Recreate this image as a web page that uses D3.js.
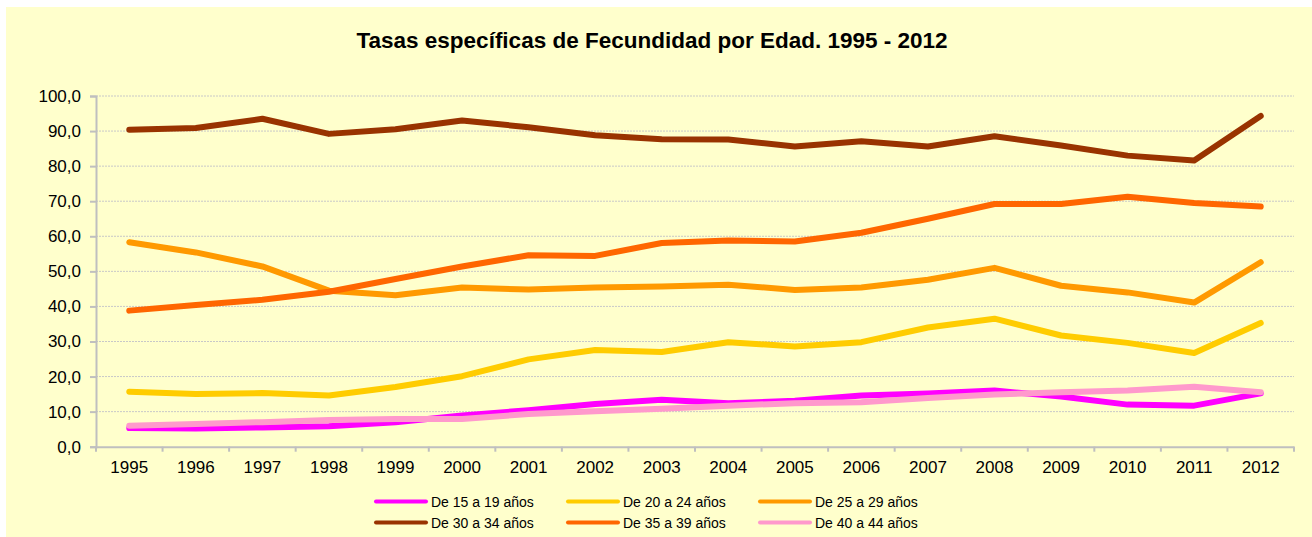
<!DOCTYPE html>
<html>
<head>
<meta charset="utf-8">
<script src="https://cdn.jsdelivr.net/npm/d3@7"></script>
<style>
  body { margin: 0; background: #ffffff; }
  text { font-family: "Liberation Sans", Arial, sans-serif; fill: #000000; }
</style>
</head>
<body>
<div id="chart"></div>
<script>
const years = ['1995','1996','1997','1998','1999','2000','2001','2002','2003','2004','2005','2006','2007','2008','2009','2010','2011','2012']
const yTicks = [0, 10, 20, 30, 40, 50, 60, 70, 80, 90, 100]

const age15_19 = [5.3, 5.2, 5.5, 5.8, 7.0, 8.9, 10.4, 12.2, 13.4, 12.4, 13.1, 14.6, 15.2, 16.0, 14.3, 12.0, 11.7, 15.2]
const age20_24 = [15.7, 15.0, 15.3, 14.6, 17.0, 20.1, 24.9, 27.6, 27.0, 29.8, 28.6, 29.8, 34.0, 36.5, 31.7, 29.6, 26.7, 35.3]
const age25_29 = [58.3, 55.4, 51.4, 44.5, 43.2, 45.4, 44.8, 45.4, 45.7, 46.2, 44.7, 45.4, 47.6, 51.0, 45.9, 44.0, 41.1, 52.6]
const age30_34 = [90.4, 90.9, 93.5, 89.2, 90.5, 93.0, 91.1, 88.8, 87.7, 87.6, 85.6, 87.1, 85.6, 88.5, 85.9, 83.0, 81.6, 94.3]
const age35_39 = [38.8, 40.4, 41.9, 44.2, 47.8, 51.4, 54.6, 54.4, 58.1, 58.8, 58.5, 61.0, 65.0, 69.2, 69.2, 71.3, 69.5, 68.5]
const age40_44 = [6.0, 6.5, 7.0, 7.6, 7.9, 7.9, 9.3, 10.1, 10.8, 11.7, 12.4, 12.7, 13.9, 14.9, 15.5, 16.0, 17.1, 15.5]

const seriesNames = ['De 15 a 19 años', 'De 20 a 24 años', 'De 25 a 29 años', 'De 30 a 34 años', 'De 35 a 39 años', 'De 40 a 44 años']
const seriesColors = ['#FF00FF', '#FFCC00', '#FF9900', '#993300', '#FF6600', '#FF99CC']

const data = [age15_19, age20_24, age25_29, age30_34, age35_39, age40_44].map((vals, i) => {
    return { name: seriesNames[i], color: seriesColors[i], values: vals.map((v, j) => ({ year: years[j], value: v })) }
})

drawLineChart(data)

function drawLineChart(data) {
    const width = 1312, height = 537
    const plot = { left: 96, right: 1294, top: 96, bottom: 446.7 }

    const svg = d3.select('#chart')
        .append('svg')
        .attr('width', width)
        .attr('height', height)

    // chart background
    svg.append('rect')
        .attr('x', 6).attr('y', 7)
        .attr('width', width - 6).attr('height', height - 7)
        .attr('fill', '#FFFFCC')

    // title
    svg.append('text')
        .attr('x', 652).attr('y', 48)
        .attr('text-anchor', 'middle')
        .attr('font-size', 22.5)
        .attr('font-weight', 'bold')
        .text('Tasas específicas de Fecundidad por Edad. 1995 - 2012')

    // scales
    const xScale = d3.scaleBand()
        .domain(years)
        .range([plot.left, plot.right])

    const yScale = d3.scaleLinear()
        .domain([0, 100])
        .range([plot.bottom, plot.top])

    // grid lines
    svg.append('g')
        .selectAll('line')
        .data(yTicks.filter(d => d > 0))
        .enter()
        .append('line')
        .attr('x1', plot.left).attr('x2', plot.right)
        .attr('y1', d => yScale(d)).attr('y2', d => yScale(d))
        .attr('stroke', '#C8C8C8')
        .attr('stroke-width', 1)
        .attr('stroke-dasharray', '2,1')

    // y axis
    const yAxis = d3.axisLeft(yScale)
        .tickValues(yTicks)
        .tickSize(6)
        .tickPadding(9)
        .tickFormat(d => d3.format('.1f')(d).replace('.', ','))

    const yAxisGroup = svg.append('g')
        .attr('transform', `translate(${plot.left},0)`)
        .call(yAxis)
    yAxisGroup.select('.domain').attr('stroke', '#BFBFBF').attr('stroke-width', 2)
    yAxisGroup.selectAll('.tick line').attr('stroke', '#BFBFBF').attr('stroke-width', 2)
    yAxisGroup.selectAll('text').attr('font-size', 17).attr('font-family', '"Liberation Sans", Arial, sans-serif').attr('fill', '#000')

    // x axis: labels at centers, ticks between categories
    const xAxis = d3.axisBottom(xScale).tickSize(0).tickPadding(14)
    const xAxisGroup = svg.append('g')
        .attr('transform', `translate(0,${plot.bottom})`)
        .call(xAxis)
    xAxisGroup.select('.domain').attr('stroke', '#BFBFBF').attr('stroke-width', 2)
    xAxisGroup.selectAll('text').attr('font-size', 17).attr('font-family', '"Liberation Sans", Arial, sans-serif').attr('fill', '#000')

    const edges = years.map(d => xScale(d)).concat([xScale(years[years.length - 1]) + xScale.bandwidth()])
    xAxisGroup.selectAll('.edge')
        .data(edges)
        .enter()
        .append('line')
        .attr('x1', d => d).attr('x2', d => d)
        .attr('y1', 0).attr('y2', 5)
        .attr('stroke', '#BFBFBF')
        .attr('stroke-width', 2)

    // lines
    const line = d3.line()
        .x(d => xScale(d.year) + xScale.bandwidth() / 2)
        .y(d => yScale(d.value))

    svg.append('g')
        .selectAll('path')
        .data(data)
        .enter()
        .append('path')
        .attr('fill', 'none')
        .attr('stroke', d => d.color)
        .attr('stroke-width', 6)
        .attr('stroke-linecap', 'round')
        .attr('stroke-linejoin', 'round')
        .attr('d', d => line(d.values))

    // legend
    const legend = svg.append('g')
        .selectAll('g')
        .data(data)
        .enter()
        .append('g')
        .attr('transform', (d, i) => `translate(${376 + (i % 3) * 192},${501.5 + Math.floor(i / 3) * 21})`)

    legend.append('line')
        .attr('x1', 0).attr('x2', 50)
        .attr('y1', 0).attr('y2', 0)
        .attr('stroke', d => d.color)
        .attr('stroke-width', 4)
        .attr('stroke-linecap', 'round')

    legend.append('text')
        .attr('x', 55)
        .attr('y', 5)
        .attr('font-size', 14)
        .text(d => d.name)
}
</script>
</body>
</html>
